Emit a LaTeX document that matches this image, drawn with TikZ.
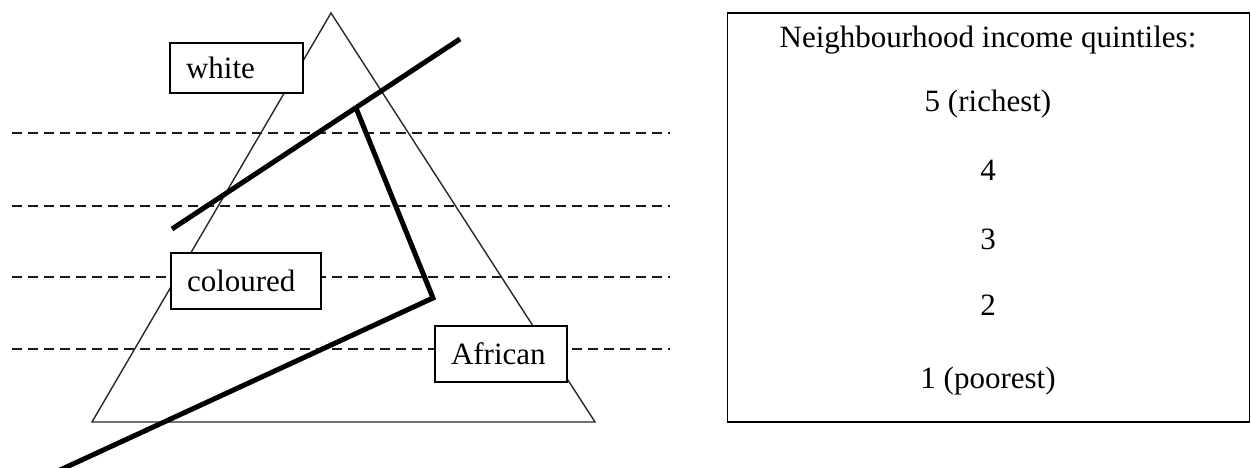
\documentclass[tikz,border=0pt]{standalone}
\usepackage{fontspec}
\setmainfont{Liberation Serif}
\usepackage{tikz}
\definecolor{cInk}{RGB}{0,0,0}
\definecolor{cDash}{RGB}{25,25,25}
\definecolor{cTri}{RGB}{40,40,40}

\begin{document}
\begin{tikzpicture}[x=1pt,y=-1pt,
  qline/.style={cDash,line width=1.8pt,dash pattern=on 10pt off 6pt},
  lab/.style={draw=cInk,fill=white,line width=1.6pt,inner xsep=16pt,inner ysep=0pt,
    align=left,font=\fontsize{31}{37}\selectfont},
  keytext/.style={anchor=base,font=\fontsize{31}{37}\selectfont}]
\useasboundingbox (0,0) rectangle (1251,468);
% quintile boundaries
\draw[qline] (12,133) -- (670,133);
\draw[qline] (12,206) -- (670,206);
\draw[qline] (12,277) -- (670,277);
\draw[qline] (12,349) -- (670,349);
% triangle
\draw[cTri,line width=1.4pt] (331,13) -- (595,422) -- (92,422) -- cycle;
% thick lines
\coordinate (t1) at (172,229);
\coordinate (t2) at (460,39);
\coordinate (p1) at (356,108);
\coordinate (p2) at (433,298);
\coordinate (p3) at (60,470);
\draw[cInk,line width=5pt] (t1) -- (t2);
\draw[cInk,line width=5pt] (p1) -- (p2) -- (p3);
% group labels
\node[lab,text width=101pt,minimum height=50pt] (white) at (236.5,68) {white};
\node[lab,text width=118pt,minimum height=56pt] (coloured) at (246,281) {coloured};
\node[lab,text width=100pt,minimum height=56pt] (african) at (501,354) {African};
% key
\node[draw=cInk,line width=1.8pt,minimum width=522pt,minimum height=409pt,inner sep=0pt] (key) at (988.5,217.5) {};
\node[keytext] (title) at (988,48) {Neighbourhood income quintiles:};
\node[keytext] (q5) at (988,112) {5 (richest)};
\node[keytext] (q4) at (988,181) {4};
\node[keytext] (q3) at (988,249) {3};
\node[keytext] (q2) at (988,315) {2};
\node[keytext] (q1) at (988,388) {1 (poorest)};
\end{tikzpicture}
\end{document}
